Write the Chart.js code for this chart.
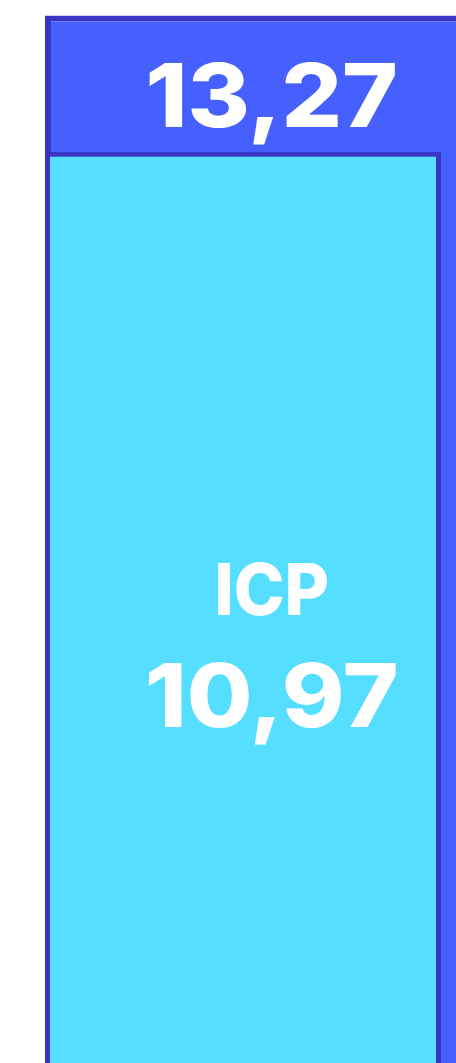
<!DOCTYPE html>
<html>
<head>
<meta charset="utf-8">
<style>
  html, body { margin: 0; padding: 0; background: #ffffff; overflow: hidden; }
  #wrap { width: 882px; height: 1067px; }
  canvas { display: block; }
</style>
<script src="https://cdn.jsdelivr.net/npm/chart.js@4.4.1/dist/chart.umd.min.js"></script>
</head>
<body>
<div id="wrap"><canvas id="chart" width="882" height="1067"></canvas></div>
<script>
// Categories and series values
const categories = ['ICP'];
const totalValues = [13.27];
const icpValues = [10.97];
const companionValues = [null];
const seriesNames = ['ICP', '', 'Total'];

// Value axis range
const axisMin = -4.5;
const axisMax = 13.5;

const fmt = v => v.toFixed(2).replace('.', ',');

const BLUE = '#4660FF';
const CYAN = '#55DEFF';
const EDGE = '#3B35C6';
const FONT = 'Inter, "Open Sans", Lato, sans-serif';

// Centered text with a horizontal stretch factor
function stretchedText(ctx, text, x, y, font, sx) {
  ctx.save();
  ctx.font = font;
  ctx.translate(x, y);
  ctx.scale(sx, 1);
  ctx.fillText(text, 0, 0);
  ctx.restore();
}

// Writes the value labels inside the bars
const barLabels = {
  id: 'barLabels',
  afterDatasetsDraw(chart) {
    const ctx = chart.ctx;
    const icpBar = chart.getDatasetMeta(0).data[0];
    const totalBar = chart.getDatasetMeta(2).data[0];
    const area = chart.chartArea;
    const left = icpBar.x - icpBar.width / 2;
    const cx = left + icpBar.width * 0.5725;

    ctx.save();
    ctx.fillStyle = '#ffffff';
    ctx.textAlign = 'center';
    ctx.textBaseline = 'alphabetic';

    // total value in the exposed blue strip
    stretchedText(ctx, fmt(totalValues[0]), cx,
      totalBar.y + (icpBar.y - totalBar.y) * 0.82, '800 88px ' + FONT, 1.08);

    // series name and value in the cyan bar
    const h = area.bottom - icpBar.y;
    stretchedText(ctx, categories[0], cx, icpBar.y + h * 0.506, '800 72px ' + FONT, 0.95);
    stretchedText(ctx, fmt(icpValues[0]), cx, icpBar.y + h * 0.629, '800 88px ' + FONT, 1.08);
    ctx.restore();
  }
};

new Chart(document.getElementById('chart'), {
  type: 'bar',
  data: {
    labels: categories,
    datasets: [
      {
        label: seriesNames[0],
        data: icpValues,
        stack: 'a',
        base: axisMin,
        backgroundColor: CYAN,
        borderColor: EDGE,
        borderWidth: 5,
        categoryPercentage: 0.898,
        barPercentage: 1.0
      },
      {
        label: seriesNames[1],
        data: companionValues,
        stack: 'b',
        base: axisMin,
        backgroundColor: BLUE,
        categoryPercentage: 0.898,
        barPercentage: 1.0
      },
      {
        label: seriesNames[2],
        data: totalValues,
        grouped: false,
        base: axisMin,
        backgroundColor: BLUE,
        borderColor: EDGE,
        borderWidth: 6,
        categoryPercentage: 0.898,
        barPercentage: 1.0
      }
    ]
  },
  options: {
    responsive: false,
    animation: false,
    devicePixelRatio: 1,
    layout: { padding: { top: 2, left: 0, right: 0, bottom: 0 } },
    plugins: {
      legend: { display: false },
      tooltip: { enabled: false }
    },
    scales: {
      x: { display: false },
      y: { display: false, min: axisMin, max: axisMax }
    }
  },
  plugins: [barLabels]
});
</script>
</body>
</html>
